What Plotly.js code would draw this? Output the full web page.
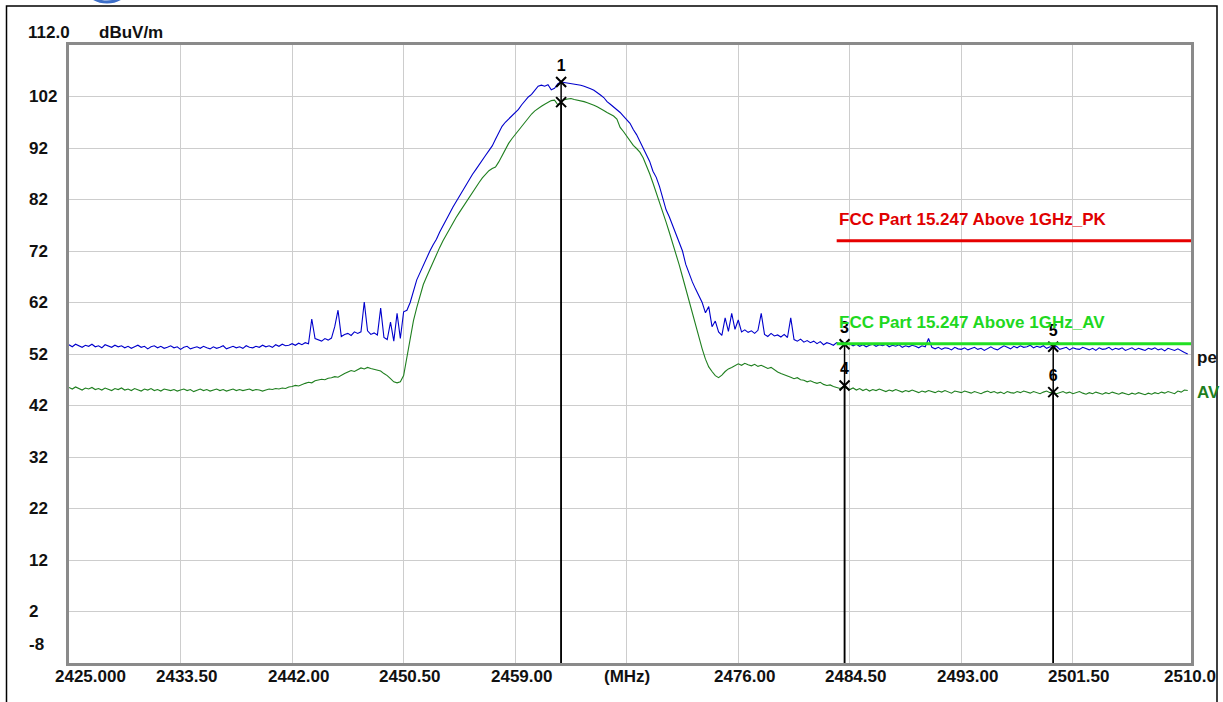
<!DOCTYPE html>
<html>
<head>
<meta charset="utf-8">
<script src="https://cdn.plot.ly/plotly-3.0.1.min.js"></script>
<style>html,body{margin:0;padding:0;background:#fff;}#chart{width:1223px;height:702px;}</style>
</head>
<body>
<div id="chart"></div>
<script>
// ---- Data ----
const FREQ_START = 2425.0;   // MHz, first sweep point
const FREQ_STEP = 0.25;      // MHz, sweep point spacing

// Peak detector trace (dBuV/m), 2425.00 .. 2510.25 MHz
const peakLevel = [
53.8,53.4,53.9,53.6, 53.3,53.7,53.5,53.9, 53.4,53.6,53.2,53.8, 53.5,53.3,53.7,53.4,
53.6,53.2,53.5,53.1, 53.4,53.7,53.3,53.5, 53.0,53.4,53.6,53.2, 53.5,53.1,53.3,53.6,
53.2,53.4,52.9,53.3, 53.5,53.0,53.2,53.4, 53.1,53.5,53.2,53.0, 53.4,53.1,53.3,53.6,
53.0,53.3,53.5,53.2, 53.4,53.1,53.6,53.3, 53.2,53.5,53.3,53.7, 53.4,53.6,53.3,53.8,
53.5,53.9,53.6,53.7, 54.0,53.7,54.1,53.8, 54.2,54.0,58.8,55.0, 54.8,54.5,55.0,54.7,
55.1,57.3,60.5,55.4, 55.8,56.0,55.6,56.3, 56.0,56.3,62.1,56.5, 55.8,56.1,55.7,60.9,
55.2,54.8,58.2,54.5, 59.9,55.0,60.2,60.5, 62.0,64.0,66.4,67.8, 69.3,70.7,72.0,73.2,
74.3,75.7,77.0,78.2, 79.3,80.5,81.6,82.5, 83.6,84.8,86.0,86.9, 87.8,88.8,89.7,90.6,
91.5,92.4,93.7,95.0, 96.2,97.0,97.6,98.3, 98.9,99.5,100.4,101.2, 101.9,102.4,103.2,104.0,
104.2,104.0,104.3,103.3, 103.6,104.5,104.8,104.7, 104.7,104.6,104.5,104.4, 104.2,104.0,103.8,103.5,
103.2,102.8,102.3,101.8, 101.0,100.5,100.0,99.5, 98.9,98.2,97.5,96.8, 95.6,94.6,93.3,92.0,
90.6,89.4,87.5,86.3, 84.5,82.0,80.0,78.6, 77.0,75.3,73.6,72.0, 69.4,67.6,66.0,64.6,
63.4,62.0,60.0,61.2, 57.3,58.4,56.3,55.6, 59.0,56.4,59.9,56.8, 58.6,56.3,56.7,56.2,
56.5,56.0,56.6,59.9, 55.8,55.4,56.0,55.5, 55.7,55.3,55.8,55.2, 59.0,54.8,54.5,54.9,
54.3,54.6,54.2,54.5, 54.0,54.4,53.8,54.2, 54.0,53.7,54.2,53.9, 54.3,53.8,54.0,53.6,
53.9,53.5,53.8,53.4, 53.7,53.9,53.5,53.8, 53.6,53.9,53.4,53.7, 53.5,53.8,53.3,53.6,
53.4,53.7,53.5,53.2, 53.6,53.4,55.0,53.3, 53.0,53.3,52.9,53.2, 53.1,52.8,53.3,53.0,
52.9,53.2,52.8,53.1, 53.3,52.9,53.1,52.7, 53.0,53.4,53.0,52.8, 53.2,53.6,53.3,53.0,
53.5,53.2,53.6,53.3, 53.4,53.7,53.2,53.5, 53.3,53.6,53.1,53.4, 53.2,53.5,52.9,53.1,
53.3,52.8,53.2,53.0, 52.9,53.3,53.0,52.8, 53.1,52.7,53.2,52.9, 53.0,53.3,52.8,53.1,
52.9,53.2,52.7,53.0, 53.2,52.8,53.1,52.9, 52.7,53.1,52.9,53.2, 52.8,53.0,52.6,53.1,
52.9,52.7,53.0,52.6, 52.3,52.0
];

// Average detector trace (dBuV/m), 2425.00 .. 2510.25 MHz
const avgLevel = [
45.5,45.2,45.6,45.3, 45.0,45.4,45.2,45.5, 45.1,45.3,45.0,45.4, 45.2,44.9,45.3,45.1,
45.4,45.0,45.2,44.9, 45.3,45.1,44.8,45.2, 45.0,45.3,44.9,45.1, 44.8,45.2,45.0,44.9,
45.1,44.8,45.0,45.2, 44.9,45.1,44.7,45.0, 45.2,44.9,45.1,44.8, 45.0,45.2,44.9,45.1,
44.8,45.0,45.2,44.9, 45.1,44.9,45.0,45.2, 44.9,45.1,45.0,44.8, 45.0,45.2,45.1,45.3,
45.2,45.4,45.3,45.6, 45.7,45.9,45.8,46.1, 46.3,46.5,46.4,46.8, 46.9,47.1,47.0,47.3,
47.4,47.6,47.5,47.9, 48.2,48.5,48.8,48.6, 49.0,49.3,49.1,49.4, 49.2,49.0,48.8,48.7,
48.2,47.8,47.2,46.6, 46.4,46.6,47.8,51.5, 55.0,58.5,61.0,63.1, 65.5,67.0,68.5,70.0,
71.4,72.7,74.0,75.2, 76.3,77.4,78.5,79.5, 80.5,81.5,82.4,83.3, 84.3,85.3,86.2,87.0,
87.6,88.0,88.3,89.3, 90.6,91.8,92.9,93.8, 94.6,95.5,96.4,97.2, 97.9,98.6,99.2,99.7,
100.1,100.5,100.9,101.2, 101.3,100.4,100.9,101.4, 101.5,101.6,101.4,101.3, 101.2,101.0,100.8,100.6,
100.3,100.0,99.7,99.3, 98.9,98.6,98.2,97.6, 96.0,95.2,94.3,93.4, 92.5,91.9,91.2,90.1,
88.6,87.0,85.2,83.4, 81.6,79.6,77.6,75.6, 73.6,71.5,69.3,67.0, 64.6,62.2,59.9,57.6,
55.3,53.0,51.0,49.5, 48.6,47.8,47.4,47.9, 48.6,49.1,49.4,49.7, 50.1,49.8,50.2,49.9,
49.7,50.0,49.6,49.8, 49.5,49.2,49.4,48.9, 48.5,48.2,48.0,47.7, 47.5,47.2,47.4,47.0,
46.9,46.6,46.8,46.5, 46.3,46.5,46.1,45.9, 46.0,45.7,45.5,45.3, 45.6,45.3,45.1,45.4,
45.0,45.3,44.9,45.2, 44.8,45.1,44.9,45.2, 44.9,44.7,45.0,44.8, 45.1,44.8,44.6,44.9,
44.7,45.0,44.8,44.5, 44.8,44.6,44.9,44.7, 44.5,44.8,44.6,44.9, 44.7,44.4,44.8,44.6,
44.5,44.8,44.6,44.4, 44.7,44.5,44.3,44.6, 44.8,44.5,44.7,44.4, 44.6,44.3,44.7,44.5,
44.4,44.7,44.5,44.8, 44.6,44.4,44.7,44.5, 44.3,44.6,44.8,44.5, 44.6,44.3,44.5,44.7,
44.4,44.6,44.3,44.5, 44.7,44.4,44.2,44.5, 44.3,44.6,44.4,44.2, 44.5,44.3,44.6,44.4,
44.2,44.5,44.3,44.1, 44.4,44.2,44.5,44.3, 44.1,44.4,44.2,44.5, 44.3,44.6,44.4,44.7,
44.5,44.3,44.8,44.6, 45.0,44.9
];

// Markers
const markerNames = ["1", "2", "3", "4", "5", "6"];
const markerFreq  = [2462.5, 2462.5, 2484.1, 2484.1, 2500.0, 2500.0];
const markerLevel = [104.8, 100.9, 53.9, 45.9, 53.4, 44.6];
const markerLabelShown = ["1", "", "3", "4", "5", "6"];

// Limit lines
const limitNames = ["FCC Part 15.247 Above 1GHz_PK", "FCC Part 15.247 Above 1GHz_AV"];
const limitLevel = [74, 54];
const limitStart = 2483.5;
const limitEnd = 2510.5;

// Axis labels
const yTickVals = [102, 92, 82, 72, 62, 52, 42, 32, 22, 12, 2, -8];
const yTickText = ["102", "92", "82", "72", "62", "52", "42", "32", "22", "12", "2", "-8"];
const xTickVals = [2425, 2433.5, 2442, 2450.5, 2459, 2467.5, 2476, 2484.5, 2493, 2501.5, 2510];
const xTickText = ["2425.000", "2433.50", "2442.00", "2450.50", "2459.00", "(MHz)", "2476.00", "2484.50", "2493.00", "2501.50", "2510.0"];
const yTopLabel = "112.0";
const yUnit = "dBuV/m";
const traceEndLabels = ["pe", "AV"];

// ---- Build ----
const freqs = peakLevel.map((_, i) => FREQ_START + i * FREQ_STEP);
const FONT = "Liberation Sans, Arial, sans-serif";
const BLUE = "#0000cc";
const DKGREEN = "#1f7f1f";
const LIMRED = "#e60000";
const LIMGREEN = "#22e022";

const traces = [];
traces.push({x: freqs, y: avgLevel, type: "scatter", mode: "lines", line: {color: DKGREEN, width: 1.1}, hoverinfo: "skip"});
traces.push({x: freqs, y: peakLevel, type: "scatter", mode: "lines", line: {color: BLUE, width: 1.1}, hoverinfo: "skip"});

// marker drop lines
const mlx = [], mly = [];
markerFreq.forEach((f, i) => { mlx.push(f, f, null); mly.push(markerLevel[i], -8, null); });
traces.push({x: mlx, y: mly, type: "scatter", mode: "lines", line: {color: "#000", width: 1.5}, hoverinfo: "skip"});

// marker symbols + labels
traces.push({
  x: markerFreq, y: markerLevel, type: "scatter", mode: "markers+text",
  text: markerLabelShown, textposition: "top center",
  textfont: {family: FONT, size: 16, color: "#000", weight: "bold"},
  marker: {symbol: "x-thin-open", size: 10, color: "#000", line: {color: "#000", width: 2}},
  hoverinfo: "skip"
});

// limit lines
const limColors = [LIMRED, LIMGREEN];
limitLevel.forEach((lv, i) => {
  traces.push({x: [limitStart, limitEnd], y: [lv, lv], type: "scatter", mode: "lines",
    line: {color: limColors[i], width: 3}, hoverinfo: "skip"});
});

const annotations = [];
const PLOT_W = 1122, PLOT_H = 618;
const px2paperX = p => (p - 69) / PLOT_W;
const px2paperY = p => (663 - p) / PLOT_H;

yTickVals.forEach((v, i) => {
  annotations.push({xref: "paper", x: px2paperX(27), xanchor: "left", yref: "y", y: v, yanchor: "middle",
    yshift: v === -8 ? 19 : 0, text: yTickText[i], showarrow: false,
    font: {family: FONT, size: 17, color: "#111", weight: "bold"}});
});
annotations.push({xref: "paper", x: px2paperX(26), xanchor: "left", yref: "paper", y: px2paperY(32), yanchor: "middle",
  text: yTopLabel, showarrow: false, font: {family: FONT, size: 17, color: "#111", weight: "bold"}});
annotations.push({xref: "paper", x: px2paperX(97), xanchor: "left", yref: "paper", y: px2paperY(32), yanchor: "middle",
  text: yUnit, showarrow: false, font: {family: FONT, size: 17, color: "#111", weight: "bold"}});

xTickVals.forEach((v, i) => {
  const a = {xref: "x", x: v, yref: "paper", y: px2paperY(676), yanchor: "middle",
    text: xTickText[i], showarrow: false, font: {family: FONT, size: 17, color: "#111", weight: "bold"}};
  if (i === 0) { a.xanchor = "left"; a.xshift = -16; }
  else if (i === xTickVals.length - 1) { a.xanchor = "left"; a.xshift = -22; }
  else if (xTickText[i] === "(MHz)") { a.xanchor = "center"; }
  else { a.xanchor = "center"; a.xshift = 6; }
  annotations.push(a);
});

limitNames.forEach((n, i) => {
  annotations.push({xref: "x", x: limitStart, xanchor: "left", yref: "y", y: limitLevel[i], yanchor: "middle",
    yshift: 21, text: n, showarrow: false, font: {family: FONT, size: 17, color: limColors[i] === LIMRED ? "#e00000" : "#20d820", weight: "bold"}});
});

annotations.push({xref: "paper", x: px2paperX(1195), xanchor: "left", yref: "y", y: 51.3, yanchor: "middle",
  text: traceEndLabels[0], showarrow: false, font: {family: FONT, size: 17, color: "#111", weight: "bold"}});
annotations.push({xref: "paper", x: px2paperX(1195), xanchor: "left", yref: "y", y: 44.6, yanchor: "middle",
  text: traceEndLabels[1], showarrow: false, font: {family: FONT, size: 17, color: DKGREEN, weight: "bold"}});

const shapes = [
  // outer frame
  {type: "rect", xref: "paper", yref: "paper", x0: px2paperX(6.5), x1: px2paperX(1217), y0: px2paperY(720), y1: px2paperY(6),
   line: {color: "#000", width: 1.5}, fillcolor: "rgba(0,0,0,0)", layer: "below"},
  // logo sliver at the top
  {type: "circle", xref: "paper", yref: "paper", x0: px2paperX(80), x1: px2paperX(134), y0: px2paperY(2), y1: px2paperY(-52),
   line: {color: "#3d6fc9", width: 3}, fillcolor: "#dfe8f8", layer: "above"}
];

const layout = {
  width: 1223, height: 702,
  margin: {l: 69, r: 32, t: 45, b: 39, pad: 0},
  paper_bgcolor: "#fff", plot_bgcolor: "#fff",
  showlegend: false,
  xaxis: {range: [2425, 2510.5], tickvals: xTickVals.slice(1, -1), showticklabels: false, ticks: "",
    showgrid: true, gridcolor: "#cdcdcd", gridwidth: 1, zeroline: false,
    showline: true, mirror: true, linecolor: "#8a8a8a", linewidth: 3, fixedrange: true},
  yaxis: {range: [-8, 112], tickvals: yTickVals.slice(0, -1), showticklabels: false, ticks: "",
    showgrid: true, gridcolor: "#cdcdcd", gridwidth: 1, zeroline: false,
    showline: true, mirror: true, linecolor: "#8a8a8a", linewidth: 3, fixedrange: true},
  annotations: annotations,
  shapes: shapes,
  font: {family: FONT}
};

Plotly.newPlot("chart", traces, layout, {staticPlot: true, displayModeBar: false});
</script>
</body>
</html>
